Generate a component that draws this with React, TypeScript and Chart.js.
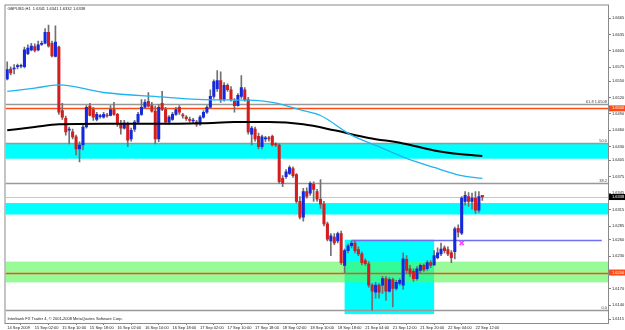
import React, { useEffect, useRef } from 'react';
import { Chart, registerables } from 'chart.js';

Chart.register(...registerables);

// ---- data ----
const dateTicks = [
  '14 Sep 2009', '15 Sep 02:00', '15 Sep 10:00', '15 Sep 18:00', '16 Sep 02:00', '16 Sep 10:00',
  '16 Sep 18:00', '17 Sep 02:00', '17 Sep 10:00', '17 Sep 18:00', '18 Sep 02:00', '18 Sep 10:00',
  '18 Sep 18:00', '21 Sep 04:00', '21 Sep 12:00', '21 Sep 20:00', '22 Sep 04:00', '22 Sep 12:00',
];
const barsPerTick = 8;
const priceTicks = [
  1.6665, 1.6635, 1.6605, 1.6575, 1.655, 1.652, 1.649, 1.646, 1.643, 1.6405,
  1.6375, 1.6345, 1.6315, 1.6285, 1.626, 1.623, 1.62, 1.617, 1.614, 1.6115,
];

const openP = [
  1.6554, 1.6572, 1.6572, 1.6576, 1.6577, 1.6576, 1.6600, 1.6607, 1.6613, 1.6607,
  1.6617, 1.6619, 1.6639, 1.6619, 1.6595, 1.6612, 1.6496, 1.6482, 1.6460, 1.6457,
  1.6448, 1.6426, 1.6433, 1.6466, 1.6504, 1.6498, 1.6480, 1.6485, 1.6484, 1.6487,
  1.6487, 1.6498, 1.6489, 1.6471, 1.6464, 1.6471, 1.6444, 1.6462, 1.6475, 1.6489,
  1.6502, 1.6513, 1.6505, 1.6495, 1.6444, 1.6509, 1.6498, 1.6475, 1.6480, 1.6489,
  1.6502, 1.6488, 1.6484, 1.6480, 1.6477, 1.6475, 1.6471, 1.6484, 1.6493, 1.6502,
  1.6522, 1.6536, 1.6551, 1.6516, 1.6542, 1.6534, 1.6513, 1.6505, 1.6522, 1.6534,
  1.6516, 1.6453, 1.6462, 1.6449, 1.6430, 1.6444, 1.6446, 1.6449, 1.6435, 1.6433,
  1.6372, 1.6375, 1.6381, 1.6390, 1.6379, 1.6330, 1.6301, 1.6348, 1.6345, 1.6361,
  1.6348, 1.6334, 1.6325, 1.6289, 1.6258, 1.6265, 1.6258, 1.6271, 1.6213, 1.6240,
  1.6249, 1.6254, 1.6242, 1.6234, 1.6222, 1.6216, 1.6177, 1.6164, 1.6177, 1.6177,
  1.6189, 1.6166, 1.6187, 1.6171, 1.6180, 1.6177, 1.6224, 1.6207, 1.6202, 1.6189,
  1.6204, 1.6213, 1.6207, 1.6218, 1.6214, 1.6227, 1.6234, 1.6245, 1.6242, 1.6236,
  1.6238, 1.6281, 1.6272, 1.6330, 1.6339, 1.6330, 1.6336, 1.6314, 1.6341,
];
const highP = [
  1.6585, 1.6576, 1.6580, 1.6581, 1.6581, 1.6612, 1.6616, 1.6619, 1.6618, 1.6623,
  1.6623, 1.6646, 1.6652, 1.6623, 1.6651, 1.6614, 1.6509, 1.6486, 1.6466, 1.6462,
  1.6451, 1.6439, 1.6469, 1.6505, 1.6509, 1.6502, 1.6493, 1.6489, 1.6493, 1.6491,
  1.6505, 1.6511, 1.6491, 1.6478, 1.6478, 1.6475, 1.6464, 1.6478, 1.6493, 1.6516,
  1.6516, 1.6529, 1.6511, 1.6504, 1.6507, 1.6531, 1.6502, 1.6487, 1.6493, 1.6502,
  1.6505, 1.6491, 1.6487, 1.6484, 1.6482, 1.6478, 1.6487, 1.6496, 1.6505, 1.6534,
  1.6552, 1.6569, 1.6567, 1.6547, 1.6545, 1.6540, 1.6518, 1.6527, 1.6560, 1.6538,
  1.6520, 1.6467, 1.6466, 1.6455, 1.6451, 1.6449, 1.6449, 1.6451, 1.6437, 1.6435,
  1.6377, 1.6388, 1.6395, 1.6393, 1.6381, 1.6339, 1.6354, 1.6355, 1.6366, 1.6366,
  1.6352, 1.6370, 1.6330, 1.6292, 1.6271, 1.6271, 1.6274, 1.6276, 1.6243, 1.6252,
  1.6258, 1.6258, 1.6247, 1.6238, 1.6225, 1.6220, 1.6180, 1.6182, 1.6180, 1.6193,
  1.6193, 1.6191, 1.6190, 1.6186, 1.6189, 1.6236, 1.6231, 1.6213, 1.6207, 1.6211,
  1.6216, 1.6216, 1.6222, 1.6222, 1.6240, 1.6245, 1.6254, 1.6249, 1.6247, 1.6240,
  1.6283, 1.6287, 1.6339, 1.6348, 1.6346, 1.6345, 1.6348, 1.6348, 1.6341,
];
const lowP = [
  1.6552, 1.6561, 1.6563, 1.6572, 1.6574, 1.6574, 1.6598, 1.6605, 1.6603, 1.6605,
  1.6615, 1.6618, 1.6612, 1.6594, 1.6594, 1.6489, 1.6480, 1.6451, 1.6435, 1.6444,
  1.6415, 1.6402, 1.6424, 1.6464, 1.6486, 1.6478, 1.6477, 1.6482, 1.6482, 1.6484,
  1.6486, 1.6487, 1.6467, 1.6453, 1.6462, 1.6430, 1.6440, 1.6458, 1.6473, 1.6487,
  1.6500, 1.6502, 1.6493, 1.6435, 1.6439, 1.6496, 1.6471, 1.6471, 1.6478, 1.6487,
  1.6489, 1.6482, 1.6478, 1.6475, 1.6473, 1.6467, 1.6469, 1.6482, 1.6491, 1.6500,
  1.6518, 1.6531, 1.6511, 1.6513, 1.6531, 1.6513, 1.6493, 1.6504, 1.6518, 1.6513,
  1.6453, 1.6433, 1.6440, 1.6426, 1.6426, 1.6439, 1.6440, 1.6431, 1.6430, 1.6363,
  1.6357, 1.6372, 1.6379, 1.6374, 1.6327, 1.6298, 1.6294, 1.6336, 1.6341, 1.6330,
  1.6330, 1.6317, 1.6285, 1.6258, 1.6231, 1.6251, 1.6254, 1.6215, 1.6200, 1.6236,
  1.6245, 1.6236, 1.6231, 1.6214, 1.6213, 1.6173, 1.6131, 1.6153, 1.6153, 1.6162,
  1.6149, 1.6164, 1.6137, 1.6168, 1.6177, 1.6169, 1.6200, 1.6193, 1.6184, 1.6186,
  1.6200, 1.6202, 1.6204, 1.6209, 1.6213, 1.6225, 1.6231, 1.6236, 1.6231, 1.6218,
  1.6225, 1.6265, 1.6269, 1.6323, 1.6321, 1.6316, 1.6308, 1.6310, 1.6332,
];
const closeP = [
  1.6571, 1.6565, 1.6573, 1.6578, 1.6578, 1.6607, 1.6610, 1.6614, 1.6606, 1.6616,
  1.6619, 1.6639, 1.6614, 1.6596, 1.6621, 1.6493, 1.6484, 1.6457, 1.6462, 1.6448,
  1.6426, 1.6433, 1.6466, 1.6502, 1.6487, 1.6484, 1.6489, 1.6486, 1.6489, 1.6486,
  1.6498, 1.6489, 1.6471, 1.6464, 1.6473, 1.6442, 1.6460, 1.6475, 1.6489, 1.6502,
  1.6511, 1.6504, 1.6495, 1.6444, 1.6502, 1.6498, 1.6475, 1.6484, 1.6489, 1.6498,
  1.6493, 1.6486, 1.6481, 1.6478, 1.6478, 1.6471, 1.6484, 1.6493, 1.6502, 1.6522,
  1.6549, 1.6551, 1.6516, 1.6542, 1.6534, 1.6516, 1.6505, 1.6524, 1.6538, 1.6516,
  1.6457, 1.6464, 1.6444, 1.6430, 1.6448, 1.6446, 1.6444, 1.6433, 1.6433, 1.6366,
  1.6363, 1.6384, 1.6392, 1.6377, 1.6330, 1.6301, 1.6348, 1.6339, 1.6363, 1.6352,
  1.6334, 1.6325, 1.6289, 1.6261, 1.6267, 1.6254, 1.6271, 1.6218, 1.6240, 1.6249,
  1.6254, 1.6240, 1.6234, 1.6218, 1.6216, 1.6177, 1.6166, 1.6177, 1.6164, 1.6189,
  1.6166, 1.6187, 1.6171, 1.6182, 1.6186, 1.6225, 1.6204, 1.6198, 1.6189, 1.6207,
  1.6213, 1.6205, 1.6218, 1.6213, 1.6231, 1.6236, 1.6243, 1.6240, 1.6234, 1.6227,
  1.6280, 1.6274, 1.6336, 1.6341, 1.6330, 1.6336, 1.6314, 1.6339, 1.6338,
];

const maFastIdx = [0, 8, 15, 28, 45, 57, 70, 77, 86, 91, 100, 108, 115, 124, 132, 138];
const maFastVal = [1.6531, 1.6537, 1.6543, 1.6529, 1.6521, 1.6516, 1.6515, 1.6511, 1.6496, 1.6487, 1.6451, 1.6430, 1.6411, 1.6392, 1.6377, 1.6372];
const maSlowIdx = [0, 8, 15, 28, 42, 57, 66, 76, 86, 95, 105, 115, 124, 132, 138];
const maSlowVal = [1.6460, 1.6466, 1.6471, 1.6472, 1.6472, 1.6473, 1.6475, 1.6475, 1.6471, 1.6460, 1.6446, 1.6436, 1.6423, 1.6416, 1.6413];

const redLevels = [1.65, 1.62];
const bidPrice = 1.6338;
const fibLow = 1.6131;
const fibHigh = 1.6741;
const fibLevels = [0, 38.2, 50, 61.8];
const fibTexts = ['0.0', '38.2', '50.0', '61.8 1.6508'];
const cyanBands = [[1.6436, 1.6408], [1.6327, 1.6306]];
const greenBand = [1.6220, 1.6182];
const boxFrom = 98, boxTo = 124, boxTop = 1.6260, boxBottom = 1.6124;
const trendFrom = 100, trendTo = 172.7, trendPrice = 1.6260;
const markIdx = 132, markPrice = 1.6254;
const titleText = 'GBPUSD,H1  1.6341 1.6341 1.6332 1.6338';
const copyText = 'Interbank FX Trader 4, \u00A9 2001-2008 MetaQuotes Software Corp.';

const FONT = 'Liberation Sans';
const TXT = '#222222';

const objectsPlugin = {
  id: 'mt4objects',
  beforeDatasetsDraw(chart: any) {
    const { ctx, chartArea: a, scales } = chart;
    const x = scales.x, y = scales.y;
    const W = a.right - a.left;
    const py = (v: number) => y.getPixelForValue(v);
    ctx.save();
    ctx.beginPath();
    ctx.rect(a.left, a.top, W, a.bottom - a.top);
    ctx.clip();
    const band = (hi: number, lo: number, color: string) => {
      ctx.fillStyle = color;
      ctx.fillRect(a.left, py(hi), W, py(lo) - py(hi));
    };
    cyanBands.forEach((b) => band(b[0], b[1], '#00FFFF'));
    const bx1 = x.getPixelForValue(boxFrom), bx2 = x.getPixelForValue(boxTo);
    ctx.fillStyle = '#00FFFF';
    ctx.fillRect(bx1, py(boxTop), bx2 - bx1, py(boxBottom) - py(boxTop));
    band(greenBand[0], greenBand[1], 'rgba(83,248,83,0.6)');
    const hline = (v: number, color: string, w: number, x1 = a.left, x2 = a.right) => {
      const yy = Math.round(py(v)) + 0.5;
      ctx.strokeStyle = color;
      ctx.lineWidth = w;
      ctx.beginPath();
      ctx.moveTo(x1, yy);
      ctx.lineTo(x2, yy);
      ctx.stroke();
    };
    hline(bidPrice, '#C8C8C8', 1);
    fibLevels.forEach((p) => hline(fibLow + (fibHigh - fibLow) * p / 100, '#999999', 1.3));
    redLevels.forEach((v) => hline(v, '#FF4A14', 1.4));
    hline(trendPrice, '#6F6FF0', 1.6, x.getPixelForValue(trendFrom), x.getPixelForValue(trendTo));
    ctx.restore();
  },
  afterDatasetsDraw(chart: any) {
    const { ctx, chartArea: a, scales } = chart;
    const y = scales.y;
    ctx.save();
    ctx.font = `4px "${FONT}"`;
    ctx.fillStyle = TXT;
    ctx.textBaseline = 'middle';
    ctx.textAlign = 'left';
    ctx.fillText(titleText, a.left + 2, a.top + 3.5);
    ctx.fillText(copyText, a.left + 2, a.bottom - 4.5);
    ctx.fillStyle = '#444444';
    ctx.textAlign = 'right';
    ctx.textBaseline = 'alphabetic';
    fibLevels.forEach((p, k) => {
      const yy = y.getPixelForValue(fibLow + (fibHigh - fibLow) * p / 100);
      ctx.fillText(fibTexts[k], a.right - 1, yy - 1);
    });
    ctx.restore();
  },
  afterDraw(chart: any) {
    const { ctx, chartArea: a, scales } = chart;
    const y = scales.y;
    ctx.save();
    ctx.strokeStyle = '#8A8A8A';
    ctx.lineWidth = 1;
    ctx.strokeRect(a.left - 0.5, a.top - 0.5, a.right - a.left + 1, a.bottom - a.top + 1);
    const box = (v: number, bg: string) => {
      const yy = y.getPixelForValue(v);
      ctx.fillStyle = bg;
      ctx.fillRect(a.right + 1, yy - 3, 625 - a.right - 1, 6);
      ctx.fillStyle = '#FFFFFF';
      ctx.font = `4px "${FONT}"`;
      ctx.textAlign = 'left';
      ctx.textBaseline = 'middle';
      ctx.fillText(v.toFixed(4), a.right + 4, yy);
    };
    redLevels.forEach((v) => box(v, '#FF4A14'));
    box(bidPrice, '#000000');
    ctx.restore();
  },
};

export default function App() {
  const ref = useRef<HTMLCanvasElement>(null);
  useEffect(() => {
    const idx = openP.map((_, i) => i);
    const bodyColors = idx.map((i) => (closeP[i] >= openP[i] ? '#1428DC' : '#D21E1E'));
    const chart = new Chart(ref.current as HTMLCanvasElement, {
      type: 'bar',
      data: {
        datasets: [
          {
            type: 'line',
            label: 'MA fast',
            data: maFastIdx.map((v, k) => ({ x: v, y: maFastVal[k] })),
            borderColor: '#1EB4F0',
            borderWidth: 1.3,
            pointRadius: 0,
            cubicInterpolationMode: 'monotone',
            order: 0,
          } as any,
          {
            type: 'line',
            label: 'MA slow',
            data: maSlowIdx.map((v, k) => ({ x: v, y: maSlowVal[k] })),
            borderColor: '#000000',
            borderWidth: 2,
            pointRadius: 0,
            cubicInterpolationMode: 'monotone',
            order: 0,
          } as any,
          {
            type: 'scatter',
            label: 'mark',
            data: [{ x: markIdx, y: markPrice }],
            pointStyle: 'crossRot',
            pointRadius: 3,
            borderColor: '#FF40FF',
            borderWidth: 1.5,
            order: 0,
          } as any,
          {
            type: 'bar',
            label: 'body',
            data: idx.map((i) => ({ x: i, y: [openP[i], closeP[i]] })),
            backgroundColor: bodyColors,
            borderWidth: 0,
            barThickness: 2.4,
            minBarLength: 1,
            grouped: false,
            order: 1,
          } as any,
          {
            type: 'bar',
            label: 'wick',
            data: idx.map((i) => ({ x: i, y: [lowP[i], highP[i]] })),
            backgroundColor: '#707070',
            borderWidth: 0,
            barThickness: 1,
            grouped: false,
            order: 2,
          } as any,
        ],
      },
      options: {
        animation: false,
        responsive: false,
        maintainAspectRatio: false,
        devicePixelRatio: 1,
        events: [],
        layout: { padding: { left: 1, top: 2, right: 0, bottom: 0 } },
        plugins: { legend: { display: false }, tooltip: { enabled: false } },
        scales: {
          x: {
            type: 'linear',
            position: 'bottom',
            min: -0.5,
            max: 174.5,
            offset: false,
            bounds: 'data',
            border: { display: false },
            grid: { drawOnChartArea: false, drawTicks: true, tickLength: 2, color: '#808080' },
            ticks: {
              autoSkip: false,
              maxRotation: 0,
              minRotation: 0,
              align: 'start',
              padding: 0,
              color: TXT,
              font: { family: FONT, size: 4 },
              callback: (v: any) => dateTicks[Math.round(Number(v) / barsPerTick)] ?? '',
            },
            afterBuildTicks: (s: any) => {
              s.ticks = dateTicks.map((_, k) => ({ value: k * barsPerTick }));
            },
            afterFit: (s: any) => {
              s.height = 7;
              s.paddingLeft = 0;
              s.paddingRight = 0;
            },
          },
          y: {
            type: 'linear',
            position: 'right',
            min: 1.61078,
            max: 1.6688,
            bounds: 'data',
            border: { display: false },
            grid: { drawOnChartArea: false, drawTicks: true, tickLength: 3, color: '#808080' },
            ticks: {
              padding: 1,
              color: TXT,
              font: { family: FONT, size: 4 },
              callback: (v: any) => Number(v).toFixed(4),
            },
            afterBuildTicks: (s: any) => {
              s.ticks = priceTicks.map((v) => ({ value: v }));
            },
            afterFit: (s: any) => {
              s.width = 17;
              s.paddingTop = 0;
              s.paddingBottom = 0;
            },
          },
        },
      } as any,
      plugins: [objectsPlugin],
    });
    return () => chart.destroy();
  }, []);
  return (
    <div style={{ position: 'absolute', left: 0, top: 0, width: 625, height: 330, background: '#FFFFFF' }}>
      <canvas ref={ref} width={625} height={330} style={{ display: 'block', width: 625, height: 330 }} />
    </div>
  );
}
